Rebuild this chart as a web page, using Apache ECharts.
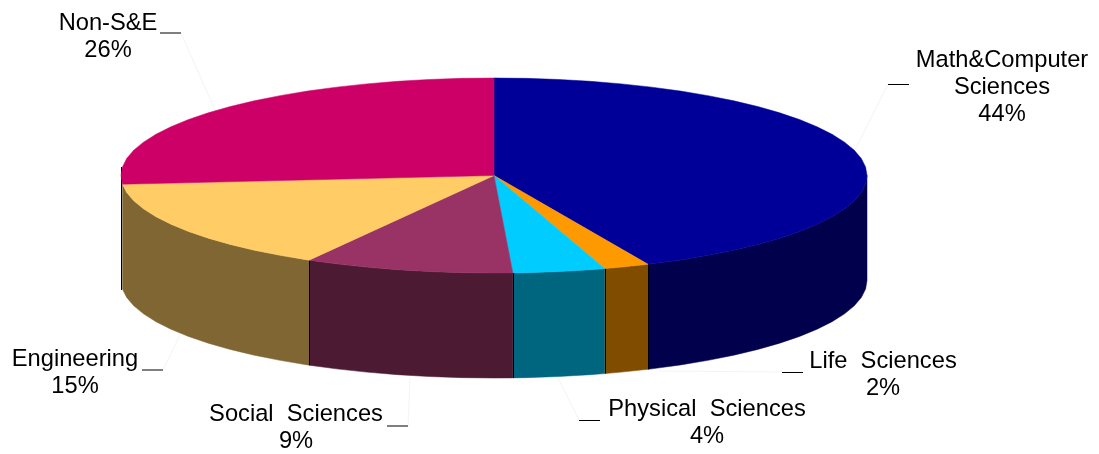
<!DOCTYPE html>
<html>
<head>
<meta charset="utf-8">
<style>html,body{margin:0;padding:0;background:#fff}#chart{width:1099px;height:454px}</style>
<script src="https://cdn.jsdelivr.net/npm/echarts@6/dist/echarts.min.js"></script>
</head>
<body>
<div id="chart"></div>
<script>
// Shares by field, clockwise from twelve o'clock
const categories = ['Math&Computer\nSciences', 'Life  Sciences', 'Physical  Sciences', 'Social  Sciences', 'Engineering', 'Non-S&E'];
const shares = [44, 2, 4, 9, 15, 26];

const topColors = ['#000099', '#FF9900', '#00CCFF', '#993366', '#FFCC66', '#CC0066'];
const wallColors = ['#00004D', '#804D00', '#006680', '#4D1A33', '#806633', '#660033'];

// Label centres in pixels, and the leader for each: dash [x1, x2, y], then faint run to the rim
const labelCentres = [[1002, 87], [883, 375], [707, 422.5], [296, 428], [75, 373], [108, 37]];
const leaderDashes = [[888, 909, 84.5], [782, 803, 372.5], [579, 600, 420.5], [387, 408, 426], [142, 163, 370], [160, 181, 33]];
const leaderRuns = [[888, 84, 855, 150], [782, 372, 660, 371], [579, 420, 558, 378], [408, 426, 410, 378], [163, 370, 180, 335], [181, 33, 214, 108]];

// Wall height as a fraction of the vertical radius
const wallDepth = 105 / 97.5;
// Foreshortening of the tilted disc: front of the pie rotates slightly towards the right rim
const frontSkewDeg = 2.9;
const arcStepDeg = 5;
// A wall narrower than this at the limb stays hidden behind its neighbour
const minWallSpanDeg = 6;

const rad = d => d * Math.PI / 180;
const skew = d => d - frontSkewDeg * (1 - Math.cos(rad(d))) / 2;
const rim = (d, drop) => [Math.sin(rad(d)), Math.cos(rad(d)) - drop];

function arcAngles(a, b) {
  const out = [a];
  for (let d = Math.ceil(a / arcStepDeg) * arcStepDeg; d < b; d += arcStepDeg) {
    if (d > a) out.push(d);
  }
  out.push(b);
  return out;
}

// [start, end] in degrees for each wedge, accumulated from the shares
const total = shares.reduce((s, v) => s + v, 0);
let running = 0;
const wedges = shares.map((v, i) => {
  const start = running / total * 360;
  running += v;
  return [skew(start), skew(running / total * 360), i];
});

function renderTop(params, api) {
  const a = api.value(0), b = api.value(1), i = api.value(2);
  const pts = [api.coord([0, 0])].concat(arcAngles(a, b).map(d => api.coord(rim(d, 0))));
  return {
    type: 'polygon',
    shape: { points: pts },
    style: { fill: topColors[i], stroke: topColors[i], lineWidth: 0.5 }
  };
}

function renderWall(params, api) {
  const a = Math.max(api.value(0), 90), b = Math.min(api.value(1), 270), i = api.value(2);
  const children = [];
  const edge = d => ({
    type: 'line',
    z2: 5,
    shape: (() => {
      const p = api.coord(rim(d, 0)), q = api.coord(rim(d, wallDepth));
      return { x1: Math.round(p[0]) + 0.5, y1: p[1], x2: Math.round(q[0]) + 0.5, y2: q[1] };
    })(),
    style: { stroke: '#000', lineWidth: 1 }
  });
  if (b - a >= minWallSpanDeg) {
    const angles = arcAngles(a, b);
    const upper = angles.map(d => api.coord(rim(d, 0)));
    const lower = angles.slice().reverse().map(d => api.coord(rim(d, wallDepth)));
    children.push({
      type: 'polygon',
      shape: { points: upper.concat(lower) },
      style: { fill: wallColors[i], stroke: wallColors[i], lineWidth: 0.5 }
    });
    if (api.value(0) > 90) children.push(edge(a));
  }
  return { type: 'group', children: children };
}

const labelGraphics = categories.map((name, i) => ({
  type: 'text',
  silent: true,
  x: labelCentres[i][0],
  y: labelCentres[i][1],
  style: {
    text: name + '\n' + shares[i] + '%',
    fill: '#000',
    font: '23.7px "Liberation Sans", Arial, sans-serif',
    lineHeight: 27,
    align: 'center',
    verticalAlign: 'middle'
  }
}));
const dashGraphics = leaderDashes.map(d => ({
  type: 'line', silent: true,
  shape: { x1: d[0], y1: d[2], x2: d[1], y2: d[2] },
  style: { stroke: '#000', lineWidth: 1 }
}));
const runGraphics = leaderRuns.map(r => ({
  type: 'line', silent: true,
  shape: { x1: r[0], y1: r[1], x2: r[2], y2: r[3] },
  style: { stroke: '#f4f4f4', lineWidth: 1 }
}));
// Dark limb on the left of the cylinder
const limbGraphic = {
  type: 'line', silent: true, z: 1,
  shape: { x1: 121.5, y1: 167, x2: 121.5, y2: 290 },
  style: { stroke: '#000', lineWidth: 1 }
};

const chart = echarts.init(document.getElementById('chart'), null, { renderer: 'canvas' });
chart.setOption({
  animation: false,
  backgroundColor: '#fff',
  grid: { left: 121, top: 78, width: 746, height: 300 },
  xAxis: { type: 'value', min: -1, max: 1, show: false },
  yAxis: { type: 'value', min: -1 - wallDepth, max: 1, show: false },
  graphic: runGraphics.concat(dashGraphics, [limbGraphic], labelGraphics),
  series: [
    { type: 'custom', name: 'walls', z: 2, clip: false, silent: true, renderItem: renderWall, data: wedges },
    { type: 'custom', name: 'tops', z: 3, clip: false, silent: true, renderItem: renderTop, data: wedges }
  ]
});
</script>
</body>
</html>
